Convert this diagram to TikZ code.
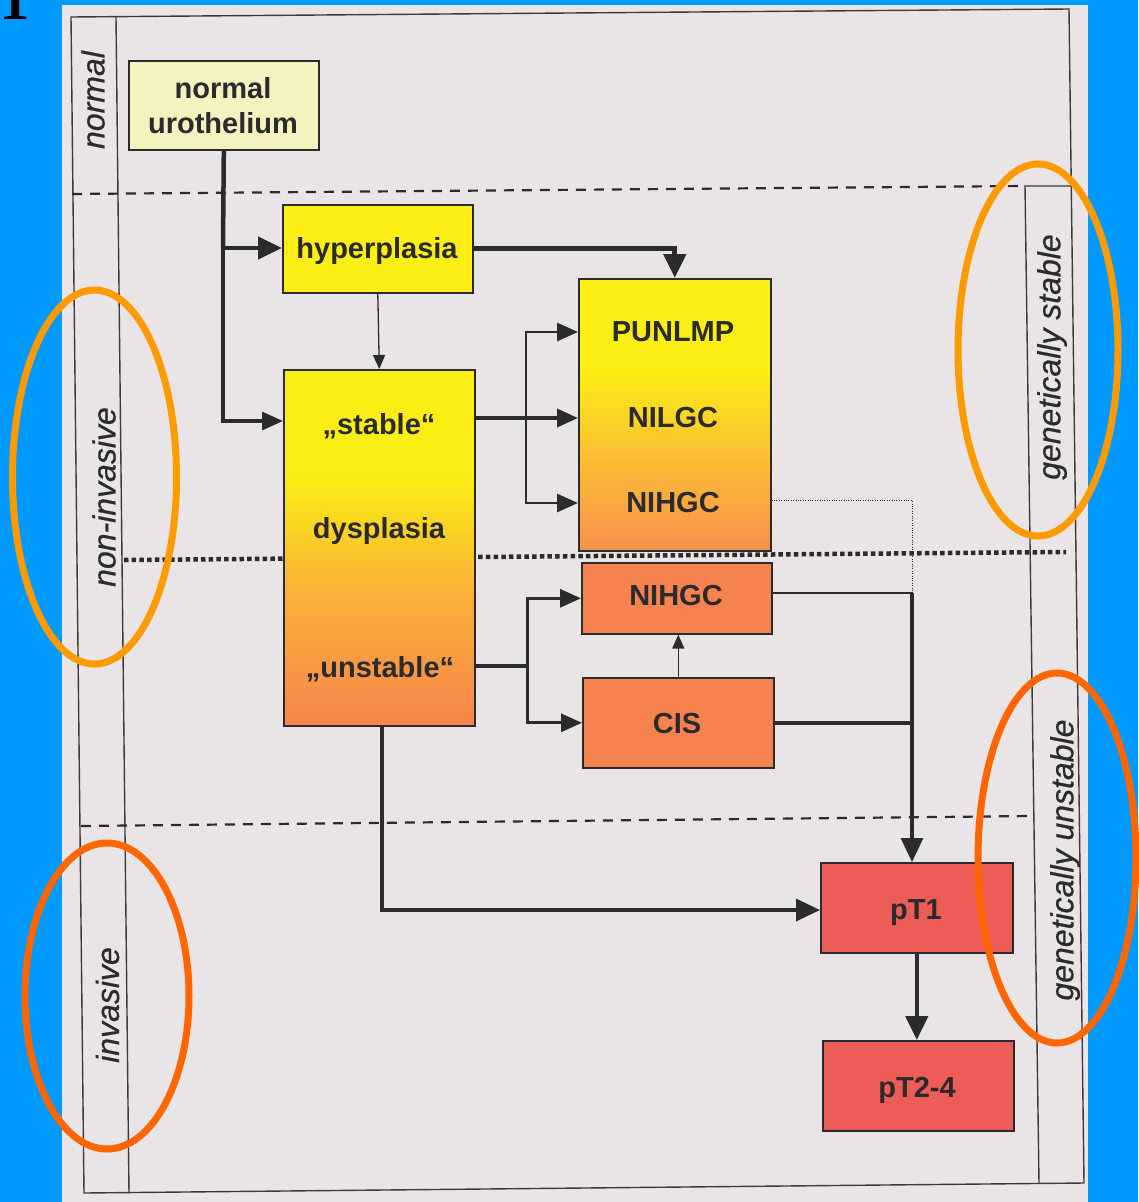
\documentclass[tikz,border=0pt]{standalone}
\usepackage{fontspec}
\setmainfont{Liberation Sans}
\newfontfamily\serifglyph{Liberation Serif}
\newfontfamily\lblfont{Liberation Sans}[ItalicFeatures={FakeBold=0.6}]
\usetikzlibrary{arrows.meta}
\definecolor{bgblue}{HTML}{0099FF}
\definecolor{paper}{HTML}{E9E5E6}
\definecolor{ink}{HTML}{2B2A2C}
\definecolor{frameink}{HTML}{3E3A3C}
\definecolor{paleyel}{HTML}{F6F2C0}
\definecolor{yel}{HTML}{FAEE14}
\definecolor{orgA}{HTML}{F7844E}
\definecolor{orgB}{HTML}{F8904C}
\definecolor{orgMid}{HTML}{FAB236}
\definecolor{orgMidB}{HTML}{FBBE34}
\definecolor{orgbox}{HTML}{F6834F}
\definecolor{redbox}{HTML}{EE5C57}
\definecolor{ellA}{HTML}{FF9A00}
\definecolor{ellB}{HTML}{FF6600}
\pgfdeclareverticalshading{dyspshade}{100bp}{color(0bp)=(orgA); color(25bp)=(orgA); color(44bp)=(orgMid); color(60bp)=(yel); color(100bp)=(yel)}
\pgfdeclareverticalshading{punshade}{100bp}{color(0bp)=(orgB); color(25bp)=(orgB); color(42bp)=(orgMidB); color(58bp)=(yel); color(100bp)=(yel)}
\tikzset{
  box/.style={draw=ink, line width=1.6pt, inner sep=0pt, anchor=north west},
  btxt/.style={text=ink, font=\fontsize{29}{34}\selectfont\bfseries, anchor=base, inner sep=0pt},
  lbl/.style={text=ink, font=\lblfont\fontsize{32}{36}\selectfont\itshape, rotate=90, inner sep=0pt},
  frame/.style={draw=frameink, line width=1.4pt},
  dashline/.style={draw=ink, line width=2.2pt, dash pattern=on 10pt off 8pt},
  squaredots/.style={draw=ink, line width=4.5pt, dash pattern=on 4.5pt off 3.2pt},
  finedots/.style={draw=ink, line width=1pt, dash pattern=on 1pt off 1.4pt},
  conn/.style={draw=ink, line join=miter},
  bigtip/.style={-{Triangle[length=24pt,width=22pt]}},
  medtip/.style={-{Triangle[length=21pt,width=18pt]}},
  smalltip/.style={-{Triangle[length=14pt,width=12pt]}},
  ring/.style={line width=7pt}
}
\begin{document}
\begin{tikzpicture}[x=1pt,y=-1pt]
\useasboundingbox (0,0) rectangle (1138,1202);
\fill[bgblue] (0,0) rectangle (1138,1202);
\fill[paper] (62,5) rectangle (1088,1202);
\node[font=\serifglyph\fontsize{85}{85}\selectfont, anchor=base, inner sep=0pt, text=black] (glyph) at (16,19) {I};

% frame
\draw[frame] (71,17) -- (1069,9) -- (1084,1183) -- (84,1193) -- cycle;
\draw[frame] (116,17) -- (129,1193);
\draw[frame] (1071,186) -- (1025,186) -- (1039,1183);

% zone separators
\draw[dashline] (72,194) -- (1025,186);
\draw[squaredots] (124,560) -- (1066,552);
\draw[dashline] (81,826) -- (1031,816);

% zone labels
\node[lbl] (lnormal) at (93,100) {normal};
\node[lbl] (lnoninv) at (104,497) {non-invasive};
\node[lbl] (linv) at (107.5,1005) {invasive};
\node[lbl] (lstable) at (1052,357) {genetically stable};
\node[lbl] (lunstable) at (1065,860) {genetically unstable};

% boxes
\node[box, fill=paleyel, minimum width=190pt, minimum height=89pt] (norm) at (128,60) {};
\node[box, fill=yel, minimum width=190pt, minimum height=88pt] (hyp) at (282,204) {};
\node[box, shading=dyspshade, minimum width=191pt, minimum height=356pt] (dys) at (283,369) {};
\node[box, shading=punshade, minimum width=192pt, minimum height=272pt] (pun) at (578,278) {};
\node[box, fill=orgbox, minimum width=190pt, minimum height=71pt] (nih2) at (581,562) {};
\node[box, fill=orgbox, minimum width=191pt, minimum height=90pt] (cis) at (582,677) {};
\node[box, fill=redbox, minimum width=192pt, minimum height=90pt] (pt1) at (820,862) {};
\node[box, fill=redbox, minimum width=191pt, minimum height=90pt] (pt24) at (822,1040) {};

% box texts
\node[btxt] (tnorm1) at (223,98) {normal};
\node[btxt] (tnorm2) at (223,133) {urothelium};
\node[btxt] (thyp) at (377,258) {hyperplasia};
\node[btxt] (tstable) at (379,434) {„stable“};
\node[btxt] (tdys) at (379,538) {dysplasia};
\node[btxt] (tunstable) at (380,677) {„unstable“};
\node[btxt] (tpun) at (673,341) {PUNLMP};
\node[btxt] (tnilgc) at (673,427) {NILGC};
\node[btxt] (tnihgc) at (673,512) {NIHGC};
\node[btxt] (tnih2) at (676,605) {NIHGC};
\node[btxt] (tcis) at (677,733) {CIS};
\node[btxt] (tpt1) at (916,919) {pT1};
\node[btxt] (tpt24) at (917,1097) {pT2-4};

% junction coordinates
\coordinate (j1) at (223,248);
\coordinate (j2) at (223,421);
\coordinate (rowL) at (526,418);
\coordinate (rowP) at (526,332);
\coordinate (rowH) at (526,503);
\coordinate (b2) at (527,666);
\coordinate (j3) at (912,593);
\coordinate (rowD) at (912,500);
\coordinate (j4) at (382,910);

% connectors
\draw[conn, line width=4.5pt] (norm.south) -- (j1);
\draw[conn, line width=4.5pt, bigtip] (j1) -- (j1 -| hyp.west);
\draw[conn, line width=3.2pt, medtip] (j1) -- (j2) -- (j2 -| dys.west);
\draw[conn, line width=5pt, bigtip] (hyp.east) -| (pun.north);
\draw[conn, line width=1.3pt, smalltip] (hyp.south) -- (dys.north);
\draw[conn, line width=3.6pt, medtip] (dys.east |- rowL) -- (pun.west |- rowL);
\draw[conn, line width=2.8pt, medtip] (rowL) -- (rowP) -- (pun.west |- rowP);
\draw[conn, line width=2.8pt, medtip] (rowL) -- (rowH) -- (pun.west |- rowH);
\draw[conn, line width=3.2pt] (dys.east |- b2) -- (b2);
\draw[conn, line width=3pt, medtip] (b2) |- (nih2.west);
\draw[conn, line width=3pt, medtip] (b2) |- (cis.west);
\draw[conn, line width=1.5pt, smalltip] (cis.north) -- (cis.north |- nih2.south);
\draw[finedots] (pun.east |- rowD) -- (rowD) -- (j3);
\draw[conn, line width=2pt] (nih2.east |- j3) -- (j3);
\draw[conn, line width=3.4pt] (cis.east) -- (cis.east -| j3);
\draw[conn, line width=3.4pt, bigtip] (j3) -- (j3 |- pt1.north);
\draw[conn, line width=3.5pt, bigtip] (dys.south -| j4) -- (j4) -- (pt1.west |- j4);
\draw[conn, line width=4.5pt, bigtip] (pt1.south) -- (pt1.south |- pt24.north);

% highlight rings
\draw[ellA, ring] (94.5,477) ellipse [x radius=82pt, y radius=187pt];
\draw[ellA, ring] (1038,350) ellipse [x radius=80pt, y radius=186pt];
\draw[ellB, ring] (107,996) ellipse [x radius=82pt, y radius=153pt];
\draw[ellB, ring] (1057,858) ellipse [x radius=79pt, y radius=185pt];
\end{tikzpicture}
\end{document}
